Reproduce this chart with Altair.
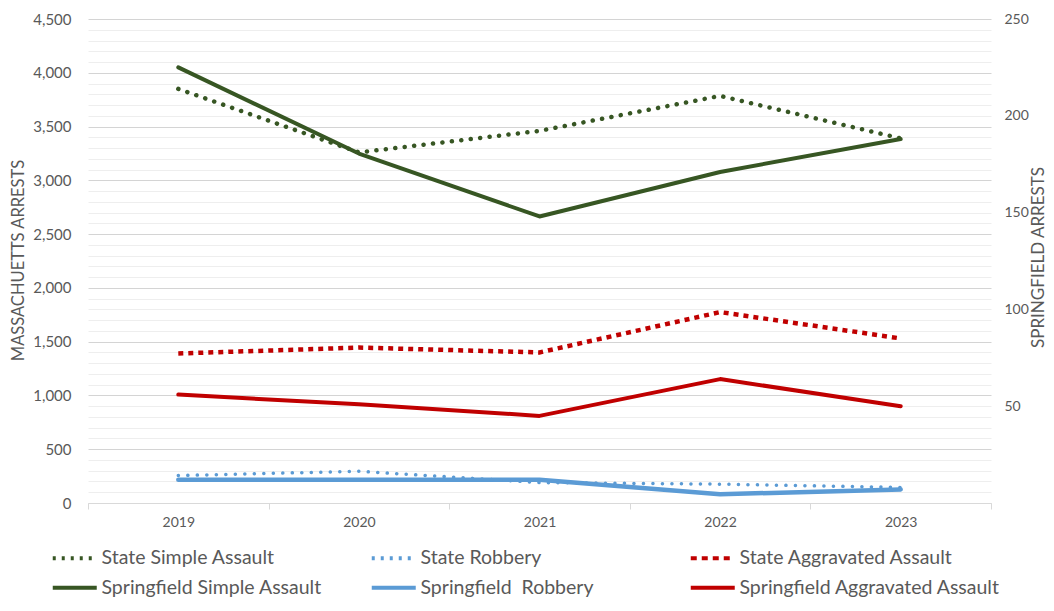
import altair as alt
import pandas as pd

years = ["2019", "2020", "2021", "2022", "2023"]
state_simple_assault = [3850, 3260, 3460, 3785, 3390]
state_robbery = [255, 295, 190, 175, 145]
state_aggravated_assault = [1390, 1445, 1400, 1775, 1530]
springfield_simple_assault = [225, 180.5, 148, 171, 188]
springfield_robbery = [12, 12, 12, 4.5, 7]
springfield_aggravated_assault = [56, 51, 45, 64, 50]

series_names = [
    "State Simple Assault",
    "State Robbery",
    "State Aggravated Assault",
    "Springfield Simple Assault",
    "Springfield\u00a0 Robbery",
    "Springfield Aggravated Assault",
]
series_values = [
    state_simple_assault,
    state_robbery,
    state_aggravated_assault,
    springfield_simple_assault,
    springfield_robbery,
    springfield_aggravated_assault,
]
series_colors = ["#375623", "#5B9BD5", "#C00000", "#375623", "#5B9BD5", "#C00000"]
legend_dashes = [[3, 6], [3, 6], [6, 5], [1, 0], [1, 0], [1, 0]]

left_ticks = list(range(0, 4501, 100))
right_ticks = [50, 100, 150, 200, 250]

rows = []
for name, vals in zip(series_names, series_values):
    for yr, v in zip(years, vals):
        rows.append({"year": yr, "series": name, "value": v})
df = pd.DataFrame(rows)

FONT = "Lato"
TXT = "#595959"

x_enc = alt.X(
    "year:O",
    title=None,
    bandPosition=0.5,
    scale=alt.Scale(type="band", domain=years, paddingInner=0, paddingOuter=0),
    axis=alt.Axis(
        orient="bottom",
        labelAngle=0,
        labelFont=FONT,
        labelFontSize=14,
        labelColor=TXT,
        labelPadding=6,
        domain=True,
        domainColor="#d9d9d9",
        domainWidth=1,
        ticks=True,
        tickBand="extent",
        tickSize=6,
        tickColor="#d9d9d9",
        grid=False,
    ),
)

legend_def = alt.Legend(
    orient="none",
    legendX=-23,
    legendY=529,
    direction="horizontal",
    columns=3,
    gridAlign="all",
    columnPadding=0,
    rowPadding=9,
    padding=0,
    symbolType="M-5.5,0H5.5",
    symbolSize=64,
    symbolStrokeWidth=4,
    symbolOffset=0,
    labelOffset=17,
    labelFont=FONT,
    labelFontSize=19.5,
    labelColor=TXT,
    labelLimit=400,
)

color_enc = alt.Color(
    "series:N",
    title=None,
    scale=alt.Scale(domain=series_names, range=series_colors),
    legend=legend_def,
)

left_axis = alt.Axis(
    orient="left",
    values=left_ticks,
    labelExpr="datum.value % 500 === 0 ? format(datum.value, ',') : ''",
    labelFont=FONT,
    labelFontSize=15,
    labelColor=TXT,
    labelPadding=17,
    ticks=False,
    domain=False,
    grid=True,
    gridWidth=1,
    gridColor={
        "condition": {"test": "datum.value % 500 === 0", "value": "#d4d4d4"},
        "value": "#eeeeee",
    },
    title="MASSACHUETTS ARRESTS",
    titleFont=FONT,
    titleFontSize=16.5,
    titleFontWeight="normal",
    titleColor=TXT,
    titleAngle=270,
    titleAlign="center",
    titleBaseline="middle",
    titleX=-70,
    titleY=241,
)

right_axis = alt.Axis(
    orient="right",
    values=right_ticks,
    labelFont=FONT,
    labelFontSize=14,
    labelColor=TXT,
    labelPadding=13,
    ticks=False,
    domain=False,
    grid=False,
    title="SPRINGFIELD ARRESTS",
    titleFont=FONT,
    titleFontSize=17,
    titleFontWeight="normal",
    titleColor=TXT,
    titleAngle=270,
    titleAlign="center",
    titleBaseline="middle",
    titleX=47,
    titleY=238,
)


def series_layer(name, domain, axis, **mark):
    return (
        alt.Chart(df)
        .transform_filter(alt.FieldEqualPredicate(field="series", equal=name))
        .mark_line(**mark)
        .encode(
            x=x_enc,
            y=alt.Y(
                "value:Q",
                scale=alt.Scale(domain=domain, nice=False, zero=True),
                axis=axis,
            ),
            color=color_enc,
        )
    )


grid_layer = series_layer(series_names[0], [0, 4500], left_axis,
                          strokeWidth=4.5, strokeCap="round", strokeDash=[0.1, 9.4])
spr_sa = series_layer(series_names[3], [0, 250], right_axis,
                      strokeWidth=4, strokeCap="round", strokeJoin="round")
spr_rob = series_layer(series_names[4], [0, 250], None,
                       strokeWidth=4.5, strokeCap="round", strokeJoin="round")
spr_agg = series_layer(series_names[5], [0, 250], None,
                       strokeWidth=4, strokeCap="round", strokeJoin="round")
st_rob = series_layer(series_names[1], [0, 4500], None,
                      strokeWidth=3.5, strokeCap="round", strokeDash=[0.1, 9.4])
st_agg = series_layer(series_names[2], [0, 4500], None,
                      strokeWidth=4.5, strokeCap="butt", strokeDash=[5, 5])

legend_layer = (
    alt.Chart(df)
    .transform_filter("false")
    .mark_line(strokeWidth=4)
    .encode(
        x=x_enc,
        y=alt.Y("value:Q", scale=alt.Scale(domain=[0, 4500], nice=False), axis=None),
        color=color_enc,
        strokeDash=alt.StrokeDash(
            "series:N",
            title=None,
            scale=alt.Scale(domain=series_names, range=legend_dashes),
            legend=legend_def,
        ),
    )
)

chart = (
    alt.layer(grid_layer, spr_sa, spr_rob, spr_agg, st_rob, st_agg, legend_layer)
    .resolve_scale(y="independent")
    .properties(
        width=903,
        height=484,
        autosize=alt.AutoSizeParams(type="none"),
        padding={"left": 80, "top": 11, "right": 55, "bottom": 95},
        background="white",
    )
    .configure_view(strokeWidth=0)
)

chart.save("out.html", embed_options={"renderer": "svg", "actions": False})
